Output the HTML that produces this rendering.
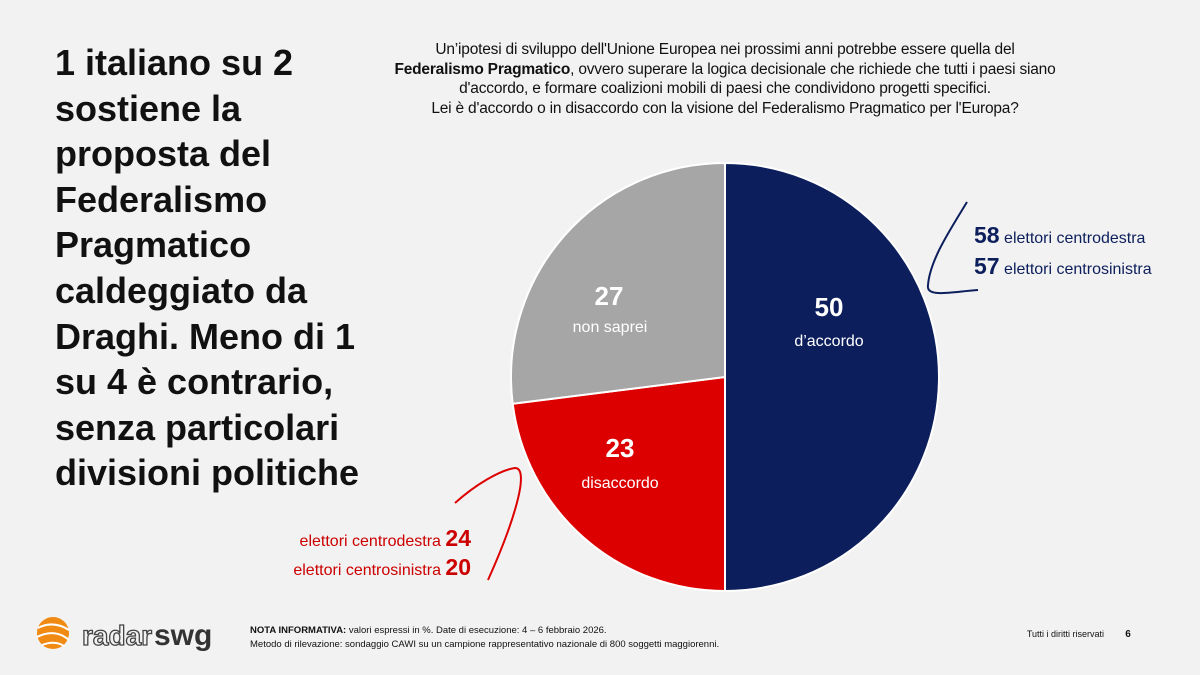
<!DOCTYPE html>
<html><head><meta charset="utf-8"><style>
body{margin:0;width:1200px;height:675px;background:#f2f2f2;font-family:"Liberation Sans",sans-serif;position:relative;overflow:hidden}
.t{position:absolute;left:55px;top:40px;font-size:36px;font-weight:bold;line-height:45.6px;color:#111;width:380px}
.q{position:absolute;left:340px;top:40px;width:770px;text-align:center;font-size:15.5px;line-height:19.5px;color:#111;letter-spacing:-0.2px}
</style></head><body>
<div class="t">1 italiano su 2<br>sostiene la<br>proposta del<br>Federalismo<br>Pragmatico<br>caldeggiato da<br>Draghi. Meno di 1<br>su 4 è contrario,<br>senza particolari<br>divisioni politiche</div>
<div class="q">Un’ipotesi di sviluppo dell'Unione Europea nei prossimi anni potrebbe essere quella del<br><b>Federalismo Pragmatico</b>, ovvero superare la logica decisionale che richiede che tutti i paesi siano<br>d'accordo, e formare coalizioni mobili di paesi che condividono progetti specifici.<br>Lei è d'accordo o in disaccordo con la visione del Federalismo Pragmatico per l'Europa?</div>
<svg width="1200" height="675" style="position:absolute;left:0;top:0">
<path d="M725,377 L725,163 A214,214 0 0 1 725,591 Z" fill="#0c1f5c" stroke="#fff" stroke-width="2"/>
<path d="M725,377 L725,591 A214,214 0 0 1 512.7,403.8 Z" fill="#dd0000" stroke="#fff" stroke-width="2"/>
<path d="M725,377 L512.7,403.8 A214,214 0 0 1 725,163 Z" fill="#a6a6a6" stroke="#fff" stroke-width="2"/>
<text x="829" y="316" fill="#fff" font-size="26" font-weight="bold" text-anchor="middle">50</text>
<text x="829" y="346" fill="#fff" font-size="16" text-anchor="middle">d’accordo</text>
<text x="609" y="305" fill="#fff" font-size="26" font-weight="bold" text-anchor="middle">27</text>
<text x="610" y="332" fill="#fff" font-size="16" text-anchor="middle">non saprei</text>
<text x="620" y="457" fill="#fff" font-size="26" font-weight="bold" text-anchor="middle">23</text>
<text x="620" y="488" fill="#fff" font-size="16" text-anchor="middle">disaccordo</text>
<path d="M967,202 C950,230 930,260 928,285 C926,298 950,292 978,290" stroke="#0c1f5c" stroke-width="2" fill="none"/>
<path d="M455,503 C475,485 500,470 515,468 C530,468 515,520 488,580" stroke="#dd0000" stroke-width="2" fill="none"/>
<text x="974" y="243" fill="#0c1f5c" font-size="16"><tspan font-size="23" font-weight="bold">58</tspan> elettori centrodestra</text>
<text x="974" y="274" fill="#0c1f5c" font-size="16"><tspan font-size="23" font-weight="bold">57</tspan>  elettori centrosinistra</text>
<text x="471" y="546" fill="#cc0000" font-size="16" text-anchor="end">elettori centrodestra <tspan font-size="23" font-weight="bold">24</tspan></text>
<text x="471" y="575" fill="#cc0000" font-size="16" text-anchor="end">elettori centrosinistra <tspan font-size="23" font-weight="bold">20</tspan></text>
<circle cx="53" cy="633" r="16" fill="#f08a12"/>
<path d="M38,628 Q53,620 69,630 M37,637 Q55,628 69,640 M42,645 Q55,640 64,646" stroke="#fff" stroke-width="2" fill="none"/>
<text x="82" y="645" fill="#f2f2f2" stroke="#444" stroke-width="1.3" font-size="28" font-weight="bold">radar</text>
<text x="154" y="645" fill="#333" font-size="30" font-weight="bold">swg</text>
<text x="250" y="633" fill="#111" font-size="9.5"><tspan font-weight="bold">NOTA INFORMATIVA:</tspan> valori espressi in %. Date di esecuzione: 4 – 6 febbraio 2026.</text>
<text x="250" y="647" fill="#111" font-size="9.5">Metodo di rilevazione: sondaggio CAWI su un campione rappresentativo nazionale di 800 soggetti maggiorenni.</text>
<text x="1104" y="637" fill="#111" font-size="9" text-anchor="end">Tutti i diritti riservati</text>
<text x="1128" y="637" fill="#111" font-size="10" font-weight="bold" text-anchor="middle">6</text>
</svg>
</body></html>
